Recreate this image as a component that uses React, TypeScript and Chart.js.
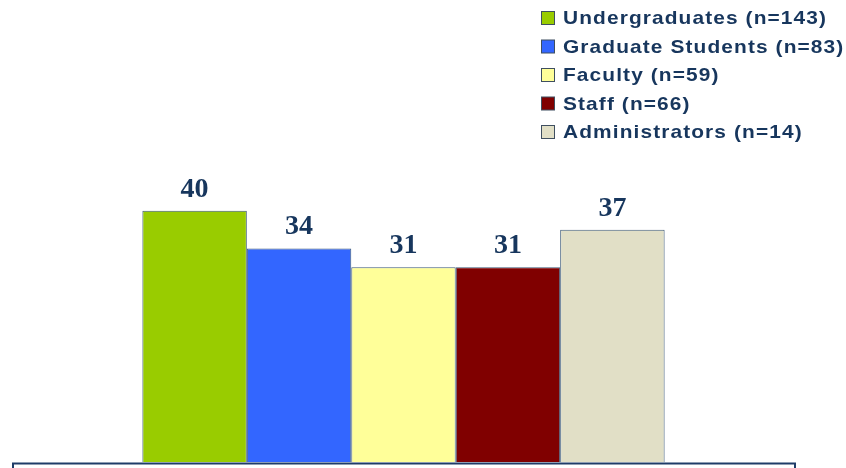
import React, { useEffect, useRef } from "react";
import { Chart, registerables } from "chart.js";

Chart.register(...registerables);

const categories = [""];
const seriesNames = [
  "Undergraduates (n=143)",
  "Graduate Students (n=83)",
  "Faculty (n=59)",
  "Staff (n=66)",
  "Administrators (n=14)",
];
const seriesValues = [40, 34, 31, 31, 37];
const seriesColors = ["#99cc00", "#3366ff", "#ffff99", "#800000", "#e1dfc6"];

const TEXT_COLOR = "#17365d";
const BORDER_COLOR = "#3d5a78";

const labelPlugin = {
  id: "valueLabels",
  afterDatasetsDraw(chart: any) {
    const ctx = chart.ctx;
    ctx.save();
    ctx.font = "bold 28px 'Liberation Serif', 'Times New Roman', serif";
    ctx.fillStyle = TEXT_COLOR;
    ctx.textAlign = "center";
    ctx.textBaseline = "alphabetic";
    chart.data.datasets.forEach((ds: any, i: number) => {
      const meta = chart.getDatasetMeta(i);
      meta.data.forEach((bar: any, j: number) => {
        ctx.fillText(String(ds.data[j]), bar.x, bar.y - 14);
      });
    });
    ctx.restore();
  },
};

const framePlugin = {
  id: "bottomFrame",
  afterDraw(chart: any) {
    const { ctx, chartArea } = chart;
    ctx.save();
    ctx.strokeStyle = "#1f3c68";
    ctx.lineWidth = 2;
    const y = chartArea.bottom + 1.5;
    ctx.beginPath();
    ctx.moveTo(chartArea.left + 1, chart.height + 5);
    ctx.lineTo(chartArea.left + 1, y);
    ctx.lineTo(chartArea.right, y);
    ctx.lineTo(chartArea.right, chart.height + 5);
    ctx.stroke();
    ctx.restore();
  },
};

const legendPlugin = {
  id: "customLegend",
  afterDraw(chart: any) {
    const ctx = chart.ctx;
    ctx.save();
    const x0 = 541.5;
    const y0 = 18;
    const step = 28.5;
    const sx = 1.1;
    chart.data.datasets.forEach((ds: any, i: number) => {
      const cy = y0 + i * step;
      ctx.fillStyle = ds.backgroundColor;
      ctx.fillRect(x0, cy - 6.5, 13, 13);
      ctx.strokeStyle = "#3f4f60";
      ctx.lineWidth = 1;
      ctx.strokeRect(x0, cy - 6.5, 13, 13);
      ctx.save();
      ctx.translate(x0 + 21.5, cy + 1);
      ctx.scale(sx, 1);
      ctx.font = "bold 19px 'Liberation Sans', Arial, sans-serif";
      (ctx as any).letterSpacing = "1px";
      ctx.textBaseline = "middle";
      ctx.textAlign = "left";
      ctx.fillStyle = TEXT_COLOR;
      ctx.fillText(ds.label, 0, 0);
      ctx.restore();
    });
    ctx.restore();
  },
};

export default function App() {
  const ref = useRef<HTMLCanvasElement | null>(null);
  useEffect(() => {
    if (!ref.current) return;
    const chart = new Chart(ref.current, {
      type: "bar",
      data: {
        labels: categories,
        datasets: seriesNames.map((name, i) => ({
          label: name,
          data: [seriesValues[i]],
          backgroundColor: seriesColors[i],
          borderColor: BORDER_COLOR,
          borderWidth: 1,
          borderSkipped: "bottom",
        })),
      },
      options: {
        animation: false,
        responsive: false,
        maintainAspectRatio: false,
        layout: { padding: { left: 12, right: 51, top: 148, bottom: 6 } },
        datasets: {
          bar: { categoryPercentage: 0.667, barPercentage: 1 },
        },
        scales: {
          x: { display: false },
          y: { display: false, min: 0, max: 50 },
        },
        plugins: {
          legend: { display: false },
          tooltip: { enabled: false },
        },
      },
      plugins: [labelPlugin, framePlugin, legendPlugin],
    });
    return () => chart.destroy();
  }, []);
  return (
    <div style={{ position: "fixed", left: 0, top: 0, width: 846, height: 468, background: "#fff" }}>
      <canvas ref={ref} width={846} height={468} style={{ display: "block" }} />
    </div>
  );
}
